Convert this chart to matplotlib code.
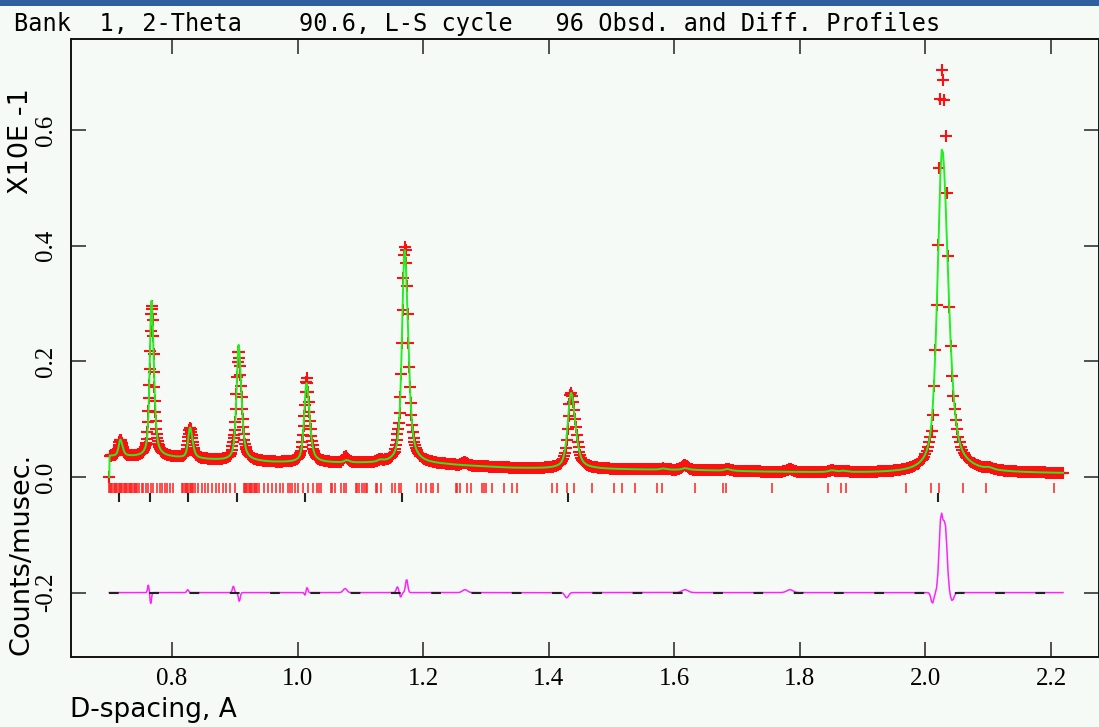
import numpy as np
import matplotlib
matplotlib.use("Agg")
import matplotlib.pyplot as plt
from matplotlib.patches import Rectangle

# ------------------------------------------------------------------ data
TITLE = "Bank  1, 2-Theta    90.6, L-S cycle   96 Obsd. and Diff. Profiles"
X_LABEL = "D-spacing, A"
Y_LABEL_MAIN = "Counts/musec."
Y_LABEL_SCALE = "X10E -1"

X_TICKS = [0.8, 1.0, 1.2, 1.4, 1.6, 1.8, 2.0, 2.2]
Y_TICKS = [-0.2, 0.0, 0.2, 0.4, 0.6]

# TOF channels (constant dd/d sampling)
D_FIRST = 0.700
D_LAST = 2.219
N_POINTS = 1154
FIRST_POINT_VALUE = 0.0

# background level
BG_D = [0.700, 0.800, 0.870, 0.960, 1.050, 1.140, 1.230, 1.340, 1.390,
        1.500, 1.630, 1.740, 1.820, 1.920, 2.100, 2.219]
BG_Y = [0.036, 0.033, 0.029, 0.025, 0.024, 0.0235, 0.021, 0.0155, 0.0145,
        0.013, 0.0118, 0.009, 0.008, 0.007, 0.0065, 0.006]

# main (Fe) peaks of the calculated profile: position, height over background, FWHM
PEAK_D = [0.7177, 0.7673, 0.8287, 0.9060, 1.0142, 1.1705, 1.4355, 2.0265]
PEAK_H = [0.0285, 0.271, 0.053, 0.201, 0.138, 0.370, 0.132, 0.562]
PEAK_FWHM = [0.0072, 0.0077, 0.0083, 0.0091, 0.0101, 0.0117, 0.0144, 0.0203]
PEAK_ETA = 0.6
PEAK_LEFT_FRAC = 0.43

# weak peaks seen in the background
WEAK_D = [1.078, 1.131, 1.582, 1.617, 1.684, 1.851, 1.869, 2.101]
WEAK_H = [0.004, 0.003, 0.002, 0.003, 0.003, 0.003, 0.002, 0.003]
WEAK_FWHM = [0.010, 0.010, 0.012, 0.012, 0.012, 0.014, 0.012, 0.014]

# observed - calculated misfit features (centre, amplitude, sigma)
DIFF_D = [0.7623, 0.7661, 0.8250, 0.8977, 0.9072, 1.0120, 1.0150, 1.0756,
          1.1590, 1.1642, 1.1737, 1.2666, 1.4286, 1.6170, 1.7840, 2.0110,
          2.0247, 2.0315, 2.0425]
DIFF_A = [0.013, -0.019, 0.005, 0.011, -0.015, -0.005, 0.009, 0.007,
          0.010, -0.008, 0.023, 0.005, -0.009, 0.005, 0.005, -0.019,
          0.128, 0.110, -0.014]
DIFF_S = [0.0012, 0.0012, 0.0015, 0.0015, 0.0015, 0.0012, 0.0014, 0.0030,
          0.0018, 0.0015, 0.0018, 0.0040, 0.0030, 0.0050, 0.0050, 0.0022,
          0.0030, 0.0030, 0.0028]
DIFF_OFFSET = -0.2

# reflection markers
PHASE1_REFL = [0.699, 0.701, 0.703, 0.705, 0.707, 0.709, 0.711, 0.713, 0.715,
               0.717, 0.719, 0.721, 0.723, 0.725, 0.727, 0.729, 0.731, 0.733,
               0.735, 0.737, 0.739, 0.741, 0.743, 0.745, 0.747,
               0.7517, 0.7543, 0.7586, 0.7623, 0.7661, 0.7703, 0.7756, 0.7809,
               0.7846, 0.7889, 0.7926, 0.7968, 0.8021,
               0.816, 0.818, 0.820, 0.822, 0.824, 0.826, 0.828, 0.830, 0.832, 0.834,
               0.8366, 0.8419, 0.8473, 0.8526, 0.8578, 0.8632, 0.8701, 0.8753,
               0.8817, 0.8855, 0.8924, 0.9003,
               0.914, 0.916, 0.918, 0.920, 0.922, 0.924, 0.926, 0.928, 0.930,
               0.932, 0.934, 0.936, 0.938,
               0.9465, 0.9534, 0.9597, 0.9656, 0.9720, 0.9773, 0.9843, 0.9879,
               0.9916, 0.9959, 1.0012, 1.0091, 1.0171, 1.0250, 1.0304,
               1.0342, 1.0378, 1.0528, 1.0553, 1.0591, 1.0696, 1.0738, 1.0766,
               1.0925, 1.0951, 1.0978, 1.1021, 1.1057, 1.1084, 1.1110, 1.1244,
               1.1269, 1.1323, 1.1508, 1.1546, 1.1615, 1.1651, 1.1906, 1.1960,
               1.2049, 1.2129, 1.2161, 1.2234, 1.2517, 1.2543, 1.2580, 1.2701,
               1.2755, 1.2940, 1.2967, 1.2994, 1.3100, 1.3286, 1.3419, 1.3499,
               1.4056, 1.4136, 1.4296, 1.4402, 1.4684, 1.5044, 1.5172, 1.5374,
               1.5719, 1.5799, 1.6329, 1.6780, 1.6818, 1.7561, 1.8452, 1.8654,
               1.8729, 1.9685, 2.0088, 2.0215, 2.0593, 2.0969, 2.2052]
PHASE2_REFL = [0.7156, 0.7650, 0.8255, 0.9035, 1.0118, 1.1663, 1.4300, 2.0199]

# ------------------------------------------------------------------ profiles
d = np.geomspace(D_FIRST, D_LAST, N_POINTS)
bg = np.interp(d, BG_D, BG_Y)


def split_pv(x, c, h, fwhm):
    hw = np.where(x < c, fwhm * PEAK_LEFT_FRAC, fwhm * (1 - PEAK_LEFT_FRAC))
    u = (x - c) / hw
    return h * (PEAK_ETA / (1 + u ** 2) + (1 - PEAK_ETA) * np.exp(-np.log(2) * u ** 2))


calc = bg.copy()
for c, h, w in zip(PEAK_D, PEAK_H, PEAK_FWHM):
    calc += split_pv(d, c, h, w)
for c, h, w in zip(WEAK_D, WEAK_H, WEAK_FWHM):
    calc += split_pv(d, c, h, w)

misfit = np.zeros_like(d)
for c, a, s in zip(DIFF_D, DIFF_A, DIFF_S):
    misfit += a * np.exp(-0.5 * ((d - c) / s) ** 2)
obs = calc + misfit

calc[0] = FIRST_POINT_VALUE
obs[0] = FIRST_POINT_VALUE
diff = obs - calc + DIFF_OFFSET

# ------------------------------------------------------------------ figure
plt.rcParams['axes.unicode_minus'] = False
plt.rcParams['lines.scale_dashes'] = False

W, H = 1099, 727
fig = plt.figure(figsize=(W / 100, H / 100), dpi=100)
BG_COLOR = '#f6faf7'
fig.patch.set_facecolor(BG_COLOR)

# screenshot title bar strip
fig.patches.append(Rectangle((0, 1 - 6 / H), 1, 6 / H, transform=fig.transFigure,
                             facecolor='#2f5f9f', edgecolor='none', zorder=0))

left, right, top, bottom = 71, 1099, 39, 657
ax = fig.add_axes([left / W, 1 - bottom / H, (right - left) / W, (bottom - top) / H])
ax.set_facecolor(BG_COLOR)

px_per_x = 627.9
x0 = 0.8 + (left - 172) / px_per_x
x1 = 0.8 + (right - 172) / px_per_x
px_per_y = 578.0
y1 = (477 - top) / px_per_y
y0 = -(bottom - 477) / px_per_y
ax.set_xlim(x0, x1)
ax.set_ylim(y0, y1)

ax.plot(d, obs, linestyle='none', marker='+', ms=8.5, mew=1.5, color='#ff1010', zorder=3)
ax.plot(d, calc, color='#22ee22', lw=1.4, zorder=4)
ax.plot(d, diff, color='#ff22ff', lw=1.1, zorder=4)
base = ax.plot([d[0], d[-1]], [DIFF_OFFSET, DIFF_OFFSET], color='#222222', lw=1.5, zorder=5)[0]
base.set_dashes((7, 22))

ax.vlines(PHASE1_REFL, -0.0104, -0.027, color='#ff2020', lw=1.1, zorder=3)
ax.vlines(PHASE2_REFL, -0.0285, -0.0440, color='#222222', lw=1.5, zorder=3)

ax.set_xticks(X_TICKS)
ax.set_xticklabels([f"{v:.1f}" for v in X_TICKS])
ax.set_yticks(Y_TICKS)
ax.set_yticklabels([f"{v:.1f}" for v in Y_TICKS])
ax.tick_params(which='both', direction='in', length=10.8, width=1.1, color='#222222',
               top=True, right=True, labelsize=18)
ax.tick_params(axis='x', pad=7.9)
ax.tick_params(axis='y', pad=9.8, labelrotation=90)
for lab in ax.get_xticklabels() + ax.get_yticklabels():
    lab.set_fontfamily('Liberation Serif')
for lab in ax.get_yticklabels():
    lab.set_va('center')
for sp in ax.spines.values():
    sp.set_linewidth(1.4)
    sp.set_color('#111111')

MONO = 'DejaVu Sans Mono'
SANS = 'DejaVu Sans'
fig.text(14 / W, 1 - 31.5 / H, TITLE, fontsize=17, family=MONO, va='baseline', ha='left')
fig.text(70 / W, 1 - 717 / H, X_LABEL, fontsize=19, family=SANS, va='baseline', ha='left')
fig.text(28.5 / W, 1 - 655 / H, Y_LABEL_MAIN, fontsize=19.5, family=SANS, rotation=90,
         rotation_mode='anchor', ha='left', va='baseline')
fig.text(28.5 / W, 1 - 88 / H, Y_LABEL_SCALE, fontsize=19.5, family=SANS, rotation=90,
         rotation_mode='anchor', ha='right', va='baseline')

fig.savefig('out.png', dpi=100, facecolor=fig.get_facecolor())
